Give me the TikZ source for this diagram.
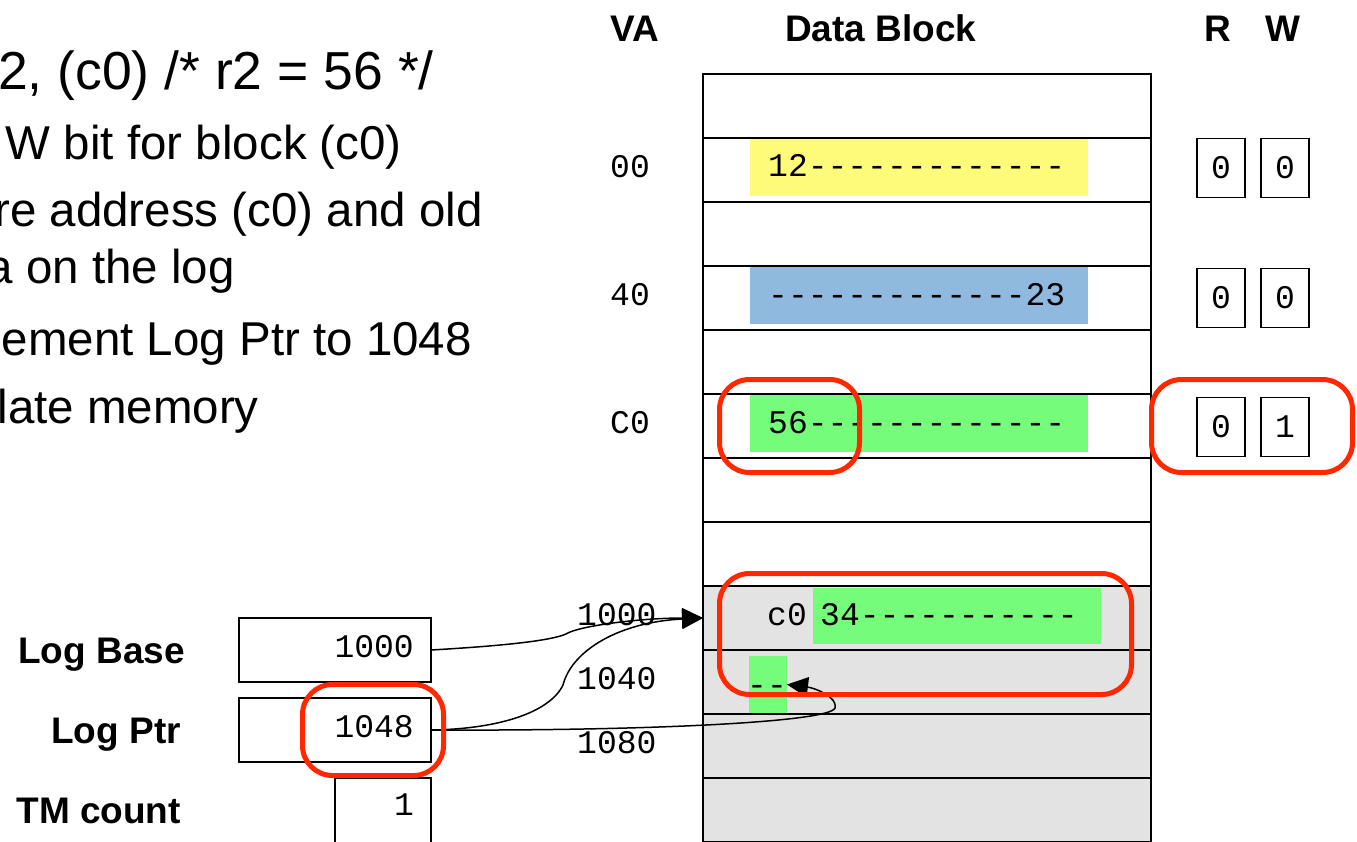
\documentclass[tikz,border=0pt]{standalone}
\usepackage{fontspec}
\setmainfont{Liberation Sans}
\newfontfamily\monof{Liberation Mono}
\usetikzlibrary{arrows.meta}
\definecolor{hlred}{RGB}{255,40,0}
\definecolor{dyellow}{RGB}{255,251,122}
\definecolor{dblue}{RGB}{143,185,222}
\definecolor{dgreen}{RGB}{117,252,122}
\definecolor{lgray}{RGB}{227,227,227}
\begin{document}
\begin{tikzpicture}[x=1pt,y=-1pt,
  memrow/.style={draw=black,line width=2pt,minimum width=448pt,minimum height=64pt,inner sep=0pt,outer sep=0pt},
  grayrow/.style={memrow,fill=lgray},
  hlfill/.style={inner sep=0pt,outer sep=0pt,anchor=north west},
  monot/.style={font=\monof\fontsize{33}{33}\selectfont,inner sep=0pt,anchor=base west},
  bitbox/.style={draw=black,line width=1.5pt,minimum width=48pt,minimum height=59pt,inner sep=0pt,font=\monof\fontsize{33}{33}\selectfont},
  regbox/.style={draw=black,line width=2pt,inner sep=0pt,outer sep=0pt,anchor=north west},
  hdr/.style={font=\bfseries\fontsize{37}{37}\selectfont,inner sep=0pt},
  body/.style={inner sep=0pt,anchor=base east,font=\fontsize{47.5}{47.5}\selectfont},
  hl/.style={draw=hlred,line width=5pt,rounded corners=30pt,inner sep=0pt},
  conn/.style={draw=black,line width=1.5pt,-{Triangle[length=21pt,width=20pt]}}
]
\useasboundingbox (0,0) rectangle (1357,841);
\clip (0,0) rectangle (1357,841);
\fill[white] (0,0) rectangle (1357,841);

% left text
\node[body,font=\fontsize{53.5}{53.5}\selectfont] (l1) at (434,89) {2, (c0) /* r2 = 56 */};
\node[body] (l2) at (402,159) {W bit for block (c0)};
\node[body] (l3) at (483,226) {re address (c0) and old};
\node[body] (l4) at (235,283) {a on the log};
\node[body] (l5) at (472,355) {ement Log Ptr to 1048};
\node[body] (l6) at (259,423) {late memory};

% headers
\node[hdr,anchor=base west] (hva) at (610,41) {VA};
\node[hdr,anchor=base west] (hdb) at (785,41) {Data Block};
\node[hdr,anchor=base west] (hr) at (1204,41) {R};
\node[hdr,anchor=base west] (hw) at (1265,41) {W};

% data block rows
\foreach \k in {0,...,7} \node[memrow] (r\k) at (927,{106+64*\k}) {};
\foreach \k in {8,...,11} \node[grayrow] (r\k) at (927,{106+64*\k}) {};

% highlights
\node[hlfill,fill=dyellow,minimum width=338pt,minimum height=57pt] (y0) at (750,139) {};
\node[hlfill,fill=dblue,minimum width=338pt,minimum height=57pt] (b0) at (750,267) {};
\node[hlfill,fill=dgreen,minimum width=338pt,minimum height=57pt] (g0) at (750,395) {};
\node[hlfill,fill=dgreen,minimum width=288pt,minimum height=56pt] (g1) at (813,588) {};
\node[hlfill,fill=dgreen,minimum width=38pt,minimum height=57pt] (g2) at (749,656) {};

% data texts
\node[monot] (t0) at (768,176) {12-------------};
\node[monot] (t1) at (768,305) {-------------23};
\node[monot] (t2) at (768,433) {56-------------};
\node[monot] (t3) at (767,625) {c0};
\node[monot] (t4) at (820,625) {34-----------};
\node[monot] (t5) at (747,695) {--};

% VA labels
\node[monot] (va0) at (610,177) {00};
\node[monot] (va1) at (610,305) {40};
\node[monot] (va2) at (610,433) {C0};
\node[monot] (va3) at (577,625) {1000};
\node[monot] (va4) at (577,689) {1040};
\node[monot] (va5) at (577,753) {1080};

% R W bits
\node[bitbox] (rb0) at (1221,168) {0};
\node[bitbox] (wb0) at (1285,168) {0};
\node[bitbox] (rb1) at (1221,298) {0};
\node[bitbox] (wb1) at (1285,298) {0};
\node[bitbox] (rb2) at (1221,427) {0};
\node[bitbox] (wb2) at (1285,427) {1};

% log registers
\node[hdr,anchor=base east] (llb) at (185,663) {Log Base};
\node[hdr,anchor=base east] (llp) at (181,743) {Log Ptr};
\node[hdr,anchor=base east] (ltm) at (181,823) {TM count};
\node[regbox,minimum width=192pt,minimum height=64pt] (lb) at (239,618) {};
\node[regbox,minimum width=192pt,minimum height=64pt] (lp) at (239,698) {};
\node[regbox,minimum width=96pt,minimum height=100pt] (tm) at (335,778) {};
\node[monot,anchor=base east] (lbv) at (414,657) {1000};
\node[monot,anchor=base east] (lpv) at (414,737) {1048};
\node[monot,anchor=base east] (tmv) at (414,815) {1};

% connectors
\draw[conn] (lb.east) .. controls (500,646) and (550,641) .. (566,634) .. controls (578,626) and (640,618) .. (r8.west);
\draw[conn] (lp.east) .. controls (500,729) and (550,712) .. (563,685) .. controls (572,650) and (620,622) .. (r8.west);
\draw[conn] (lp.east) .. controls (650,731) and (830,722) .. (835,708) .. controls (838,697) and (815,688) .. (g2.east);

% red highlights
\node[hl,minimum width=140pt,minimum height=93pt] (h1) at (789.5,426) {};
\node[hl,minimum width=201pt,minimum height=93pt] (h2) at (1252,426) {};
\node[hl,minimum width=412pt,minimum height=121pt] (h3) at (925.5,634) {};
\node[hl,minimum width=141pt,minimum height=91pt] (h4) at (373,730) {};
\end{tikzpicture}
\end{document}
